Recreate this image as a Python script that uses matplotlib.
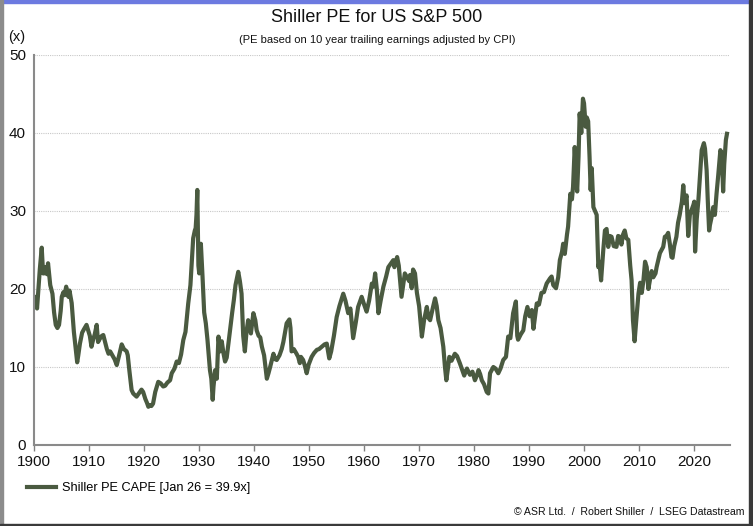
import matplotlib
matplotlib.use("Agg")
import matplotlib.pyplot as plt
from matplotlib.patches import Rectangle

years = [1900.0,1900.25,1900.5,1900.75,1901.0,1901.35,1901.6,1901.8,1902.1,1902.3,1902.5,1902.9,1903.3,1903.6,1903.9,1904.2,1904.5,1904.8,1905.0,1905.3,1905.5,1905.8,1906.0,1906.2,1906.4,1906.8,1907.2,1907.5,1907.8,1908.0,1908.3,1908.7,1909.0,1909.5,1909.8,1910.1,1910.4,1910.7,1911.0,1911.35,1911.6,1911.9,1912.3,1912.55,1912.9,1913.2,1913.5,1913.8,1914.2,1914.6,1915.0,1915.4,1915.9,1916.3,1916.8,1917.0,1917.3,1917.7,1918.0,1918.3,1918.6,1919.0,1919.5,1919.8,1920.2,1920.5,1920.75,1921.0,1921.3,1921.6,1922.0,1922.55,1923.0,1923.45,1923.8,1924.2,1924.7,1925.0,1925.5,1925.9,1926.3,1926.7,1927.1,1927.5,1928.0,1928.4,1928.9,1929.2,1929.35,1929.5,1929.65,1929.85,1930.0,1930.3,1930.6,1930.9,1931.2,1931.5,1931.95,1932.2,1932.45,1932.6,1932.9,1933.2,1933.5,1933.8,1934.1,1934.4,1934.7,1935.0,1935.6,1936.0,1936.3,1936.6,1937.1,1937.4,1937.7,1938.0,1938.3,1938.6,1938.9,1939.2,1939.4,1939.85,1940.2,1940.45,1940.8,1941.1,1941.4,1941.8,1942.3,1942.6,1942.9,1943.5,1943.8,1944.1,1944.6,1945.0,1945.3,1945.9,1946.4,1946.6,1946.8,1947.2,1947.7,1948.0,1948.3,1948.5,1948.9,1949.2,1949.55,1949.9,1950.45,1950.9,1951.4,1951.8,1952.3,1952.8,1953.2,1953.65,1954.0,1954.5,1955.0,1955.5,1956.2,1956.6,1957.1,1957.5,1958.0,1958.5,1958.9,1959.55,1960.0,1960.45,1960.9,1961.4,1961.7,1962.0,1962.3,1962.6,1963.0,1963.5,1964.0,1964.4,1965.3,1965.5,1966.0,1966.3,1966.8,1967.1,1967.4,1967.8,1968.2,1968.35,1968.65,1968.9,1969.25,1969.6,1970.0,1970.5,1970.9,1971.4,1971.7,1972.0,1972.5,1972.9,1973.2,1973.5,1973.9,1974.4,1974.7,1974.95,1975.2,1975.5,1975.9,1976.5,1976.9,1977.4,1977.9,1978.2,1978.35,1978.7,1979.25,1979.7,1980.15,1980.5,1980.8,1981.1,1981.4,1981.8,1982.3,1982.6,1982.9,1983.5,1983.9,1984.4,1984.8,1985.3,1985.8,1986.2,1986.6,1987.1,1987.6,1987.85,1988.0,1988.5,1988.95,1989.3,1989.7,1990.1,1990.5,1990.8,1991.0,1991.4,1991.8,1992.25,1992.7,1993.2,1993.8,1994.1,1994.4,1994.9,1995.3,1995.6,1996.0,1996.2,1996.5,1996.9,1997.1,1997.5,1997.8,1998.0,1998.3,1998.6,1998.75,1999.0,1999.2,1999.5,1999.8,2000.0,2000.3,2000.5,2000.75,2001.0,2001.2,2001.4,2001.7,2002.0,2002.3,2002.6,2002.8,2003.1,2003.5,2003.8,2004.1,2004.4,2004.7,2005.0,2005.4,2005.9,2006.2,2006.5,2006.8,2007.1,2007.4,2007.7,2008.05,2008.4,2008.65,2008.9,2009.2,2009.5,2009.9,2010.2,2010.5,2010.8,2011.1,2011.4,2011.7,2012.0,2012.3,2012.6,2013.0,2013.2,2013.5,2013.8,2014.1,2014.4,2014.7,2015.0,2015.3,2015.6,2015.9,2016.1,2016.4,2016.8,2017.1,2017.4,2017.8,2018.05,2018.3,2018.65,2018.95,2019.25,2019.5,2019.9,2020.05,2020.2,2020.5,2020.8,2021.1,2021.4,2021.8,2022.0,2022.3,2022.5,2022.75,2022.9,2023.2,2023.5,2023.8,2024.1,2024.4,2024.8,2024.95,2025.2,2025.3,2025.5,2025.8,2026.0]

cape = [18.7,19.0,17.5,20.0,22.5,25.3,22.0,22.0,22.8,21.9,23.3,20.5,19.4,17.0,15.4,15.0,15.4,17.2,19.0,19.6,19.2,20.3,19.5,19.0,19.8,18.2,14.5,12.5,10.6,11.5,13.0,14.4,14.8,15.4,14.7,14.0,12.6,13.5,14.2,15.4,13.2,13.6,14.0,14.1,13.1,12.3,11.7,12.0,11.5,11.0,10.25,11.4,12.9,12.3,12.0,11.5,9.5,7.05,6.6,6.4,6.2,6.6,7.1,6.8,5.9,5.4,4.9,5.1,5.0,5.3,6.8,8.1,7.9,7.5,7.6,8.0,8.3,9.2,9.8,10.7,10.5,11.6,13.45,14.5,18.15,20.5,26.5,27.5,27.8,29.5,32.7,23.0,22.0,25.8,21.6,17.0,15.6,13.5,9.6,8.5,5.8,7.5,9.6,8.5,13.9,12.0,13.3,11.8,10.7,11.2,14.7,17.0,18.6,20.5,22.2,21.0,19.4,14.0,12.0,14.5,16.0,15.0,14.3,16.9,16.0,14.7,14.0,13.8,12.6,11.5,8.5,9.2,10.0,11.7,11.0,10.9,11.5,12.3,13.2,15.6,16.1,15.0,12.0,12.3,11.7,11.3,10.5,11.3,10.9,10.2,9.2,10.3,11.3,11.8,12.2,12.3,12.6,12.9,13.0,11.1,12.0,14.0,16.4,17.8,19.4,18.5,16.9,17.5,13.7,15.8,17.7,19.0,18.0,17.1,18.5,20.7,20.3,22.0,20.0,16.9,18.5,20.3,21.6,22.8,23.7,22.8,24.1,23.0,19.0,20.5,22.0,21.5,21.0,21.8,20.1,22.5,22.0,19.5,17.8,13.9,16.0,17.7,16.3,16.0,17.6,18.8,17.8,16.0,15.0,12.6,10.0,8.3,9.6,11.3,10.8,11.7,11.4,10.5,9.5,8.9,9.2,9.8,9.0,9.4,8.3,8.9,9.6,9.1,8.3,7.8,6.8,6.6,9.2,10.0,9.8,9.2,9.8,10.9,11.3,13.9,13.7,16.9,18.4,14.0,13.5,14.2,14.7,16.5,17.7,16.5,17.3,14.9,16.0,18.15,18.0,19.5,19.6,20.7,21.35,21.6,20.5,20.1,21.5,23.7,24.8,25.8,24.5,27.0,28.0,32.2,31.5,33.1,38.2,33.9,32.5,37.0,42.5,40.0,44.4,43.8,40.8,42.0,41.5,37.0,32.7,35.5,30.5,30.0,29.5,22.8,23.5,21.1,25.0,27.5,27.7,25.4,26.8,26.7,25.5,25.4,26.8,26.7,25.7,27.0,27.5,26.5,26.3,23.0,21.1,16.0,13.3,16.0,19.4,20.8,19.5,21.1,23.5,22.8,20.0,21.2,22.3,21.5,22.0,22.8,23.7,24.6,25.0,25.4,26.7,26.8,27.2,25.8,24.1,24.0,25.5,26.7,28.5,29.5,31.2,33.3,31.0,32.0,26.8,29.5,30.0,30.8,31.2,24.8,29.0,31.4,34.5,37.8,38.7,38.0,35.2,31.5,27.5,28.2,29.2,30.5,29.5,32.2,34.5,37.8,37.5,34.5,32.5,36.0,39.1,39.9]

x_ticks = list(range(1900, 2021, 10))
y_ticks = [0, 10, 20, 30, 40, 50]

title = "Shiller PE for US S&P 500"
subtitle = "(PE based on 10 year trailing earnings adjusted by CPI)"
series_label = "Shiller PE CAPE [Jan 26 = 39.9x]"
source = "\u00a9 ASR Ltd.  /  Robert Shiller  /  LSEG Datastream"

FONT = ["Liberation Sans", "DejaVu Sans"]
plt.rcParams["font.family"] = FONT
line_color = "#4a5a40"

fig = plt.figure(figsize=(7.53, 5.26), dpi=100)
ax = fig.add_axes([34.3/753, 1-445/526, (730-34.3)/753, (445-55)/526])

ax.plot(years, cape, color=line_color, lw=3.0, solid_joinstyle="round", label=series_label)

ax.set_xlim(1900, 2026.55)
ax.set_ylim(0, 50)
ax.set_xticks(x_ticks)
ax.set_yticks(y_ticks)
ax.tick_params(axis="x", direction="out", length=4, width=1, color="#808080",
               labelsize=11, pad=3, labelcolor="#111111")
ax.tick_params(axis="y", length=0, labelsize=11, pad=6, labelcolor="#111111")
for side in ["top", "right"]:
    ax.spines[side].set_visible(False)
for side in ["left", "bottom"]:
    ax.spines[side].set_color("#8a8a8a")
    ax.spines[side].set_linewidth(1.5)
ax.yaxis.grid(True, linestyle=(0, (1, 1)), color="#c8c8c8", lw=0.8)
ax.set_axisbelow(True)

fig.text(377/753, 1-18/526, title, ha="center", va="center", fontsize=13, color="#111111")
fig.text(377/753, 1-40/526, subtitle, ha="center", va="center", fontsize=8, color="#111111")
fig.text(8/753, 1-37/526, "(x)", ha="left", va="center", fontsize=10.5, color="#111111")
fig.text(745/753, 1-512/526, source, ha="right", va="center", fontsize=7.6, color="#111111")

leg = ax.legend(loc="center left", bbox_to_anchor=(27/753, 1-488/526), bbox_transform=fig.transFigure,
                frameon=False, handlelength=2.25, handletextpad=0.48, borderaxespad=0, borderpad=0,
                prop={"size": 9.2})

# outer frame
fig.patches.append(Rectangle((0, 1-3/526), 1, 3/526, transform=fig.transFigure, color="#6c7ae0", zorder=10))
fig.patches.append(Rectangle((0, 0), 2.5/753, 1, transform=fig.transFigure, color="#8c8c8c", zorder=10))
fig.patches.append(Rectangle((1-4/753, 0), 4/753, 1, transform=fig.transFigure, color="#3a3a3a", zorder=10))
fig.patches.append(Rectangle((0, 0), 1, 2/526, transform=fig.transFigure, color="#3a3a3a", zorder=10))

fig.savefig("out.png", dpi=100)
